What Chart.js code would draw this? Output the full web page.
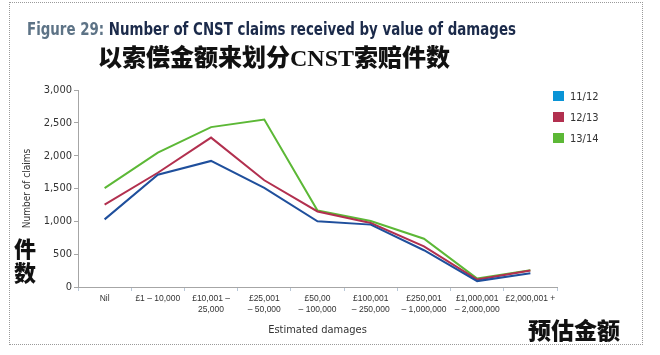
<!DOCTYPE html>
<html>
<head>
<meta charset="utf-8">
<script src="https://cdn.jsdelivr.net/npm/chart.js@4/dist/chart.umd.min.js"></script>
<style>
  html, body { margin: 0; padding: 0; background: #fff; }
  #wrap { position: relative; width: 660px; height: 355px; overflow: hidden; background: #fff; }
  #frame { position: absolute; left: 9px; top: 2px; width: 634px; height: 343px; border: 1px dotted #9a9a9a; box-sizing: border-box; }
  canvas { position: absolute; left: 0; top: 0; }
  .t { position: absolute; white-space: nowrap; }
  #title { left: 27px; top: 19px; font: bold 17px 'DejaVu Sans Condensed', sans-serif; color: #1b2a4a; transform: scaleX(0.875); transform-origin: left top; }
  #title span { color: #5d7386; }
  .cjk { font-family: 'Noto Sans CJK SC', sans-serif; font-weight: 900; color: #111; }
  #cn1 { left: 98px; top: 38px; font-size: 24px; }
  #cn1 b { font-family: 'Liberation Serif', serif; font-weight: bold; }
  #cn2 { left: 14px; top: 235px; font-size: 22px; line-height: 24px; }
  #cn3 { left: 528px; top: 312px; font-size: 23px; }
  #legend { position: absolute; left: 553px; top: 90px; font: 11px 'DejaVu Sans Condensed', sans-serif; color: #333; }
  .li { height: 21px; display: flex; align-items: flex-start; }
  .lb { width: 11px; height: 10px; margin-right: 6px; margin-top: 1px; }
</style>
</head>
<body>
<div id="wrap">
  <canvas id="c" width="660" height="355"></canvas>
  <div id="frame"></div>
  <div id="title" class="t"><span>Figure 29:</span> Number of CNST claims received by value of damages</div>
  <div id="cn1" class="t cjk">以索偿金额来划分<b>CNST</b>索赔件数</div>
  <div id="cn2" class="t cjk">件<br>数</div>
  <div id="cn3" class="t cjk">预估金额</div>
  <div id="legend"></div>
</div>
<script>
const categories = [
  ['Nil'],
  ['£1 – 10,000'],
  ['£10,001 –', '25,000'],
  ['£25,001', '– 50,000'],
  ['£50,00', '– 100,000'],
  ['£100,001', '– 250,000'],
  ['£250,001', '– 1,000,000'],
  ['£1,000,001', '– 2,000,000'],
  ['£2,000,001 +']
];
const seriesNames = ['11/12', '12/13', '13/14'];
const s1112 = [1030, 1710, 1920, 1510, 1000, 950, 560, 90, 210];
const s1213 = [1255, 1740, 2275, 1625, 1150, 975, 620, 113, 250];
const s1314 = [1505, 2045, 2435, 2550, 1165, 1005, 735, 128, 254];
const yTicks = [0, 500, 1000, 1500, 2000, 2500, 3000];

const lineColors = ['#1f4f9c', '#b2304f', '#5cb836'];
const legendColors = ['#0a94d6', '#b2304f', '#5cb836'];

const legend = document.getElementById('legend');
seriesNames.forEach((n, i) => {
  const d = document.createElement('div');
  d.className = 'li';
  d.innerHTML = '<div class="lb" style="background:' + legendColors[i] + '"></div><div>' + n + '</div>';
  legend.appendChild(d);
});

const narrow = "'DejaVu Sans Condensed', sans-serif";
const tickFont = "'Liberation Sans', Arial, sans-serif";

new Chart(document.getElementById('c'), {
  type: 'line',
  data: {
    labels: categories,
    datasets: [s1112, s1213, s1314].map((d, i) => ({
      label: seriesNames[i],
      data: d,
      borderColor: lineColors[i],
      backgroundColor: lineColors[i],
      borderWidth: 2,
      pointRadius: 0,
      tension: 0,
      fill: false
    }))
  },
  options: {
    responsive: false,
    animation: false,
    layout: { padding: { left: 21, right: 103, top: 90, bottom: 18 } },
    plugins: { legend: { display: false }, tooltip: { enabled: false } },
    scales: {
      x: {
        type: 'category',
        offset: true,
        afterFit: s => { s.height = 50; },
        grid: { display: true, drawOnChartArea: false, drawTicks: true, tickLength: 4, color: '#b9c8d8', offset: true },
        border: { display: true, color: '#a6a6a6', width: 1 },
        ticks: { color: '#333', font: { family: tickFont, size: 8.5 }, padding: 3, maxRotation: 0, autoSkip: false },
        title: { display: true, text: 'Estimated damages', color: '#333', font: { family: narrow, size: 11 }, padding: 0 }
      },
      y: {
        min: 0, max: 3000,
        afterFit: s => { s.width = 57; },
        afterBuildTicks: s => { s.ticks = yTicks.map(v => ({ value: v })); },
        grid: { display: true, drawOnChartArea: false, drawTicks: true, tickLength: 4, color: '#a6a6a6' },
        border: { display: true, color: '#a6a6a6', width: 1 },
        ticks: { color: '#333', font: { family: narrow, size: 11 }, padding: 2,
          callback: v => v.toLocaleString('en-US') },
        title: { display: true, text: 'Number of claims', color: '#333', font: { family: narrow, size: 10 }, padding: 0 }
      }
    }
  }
});
</script>
</body>
</html>
